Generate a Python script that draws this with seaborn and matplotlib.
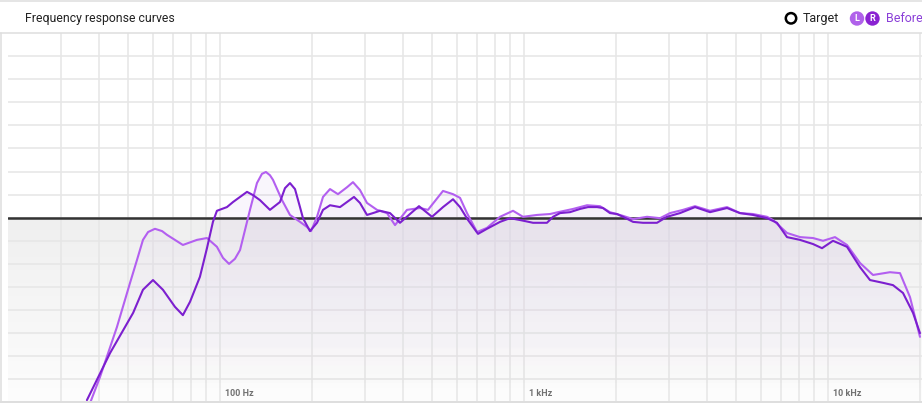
import numpy as np
import pandas as pd
import matplotlib
matplotlib.use("Agg")
import matplotlib.pyplot as plt
import matplotlib.colors as mcolors
from matplotlib.lines import Line2D
from matplotlib.patches import Ellipse
import seaborn as sns

# ---------------- data ----------------
freq_L = [37.4, 40.3, 45.8, 50.6, 53.3, 55.8, 58.0, 61.1, 64.5, 66.9, 75.5, 84.0, 90.6, 97.7,
          102.3, 107.1, 112.0, 116.4, 125.5, 132.3, 137.4, 141.6, 146.0, 149.4, 160.0, 169.9,
          183.3, 193.2, 199.3, 208.5, 218.2, 230.1, 244.4, 261.7, 273.8, 288.7, 304.5, 328.4,
          354.3, 376.5, 412.2, 454.8, 483.3, 541.5, 584.1, 616.0, 649.4, 700.6, 755.5, 834.0,
          920.2, 992.4, 1104, 1218, 1294, 1450, 1612, 1778, 1918, 2117, 2284, 2539, 2802,
          3022, 3334, 3652, 4092, 4654, 5134, 5666, 6300, 6593, 7331, 8089, 8927, 9630,
          10544, 11547, 12742, 14060, 15992, 17251, 18610, 20071]
spl_L = [-40.1, -34.5, -23.7, -14.1, -9.2, -4.8, -3.1, -2.4, -2.9, -3.7, -5.9, -4.8, -4.4, -6.3,
         -8.7, -10.0, -8.9, -7.0, 1.7, 7.5, 9.5, 9.9, 9.2, 8.2, 3.8, 0.6,
         -0.9, -2.0, -2.9, 0.2, 4.5, 6.2, 5.1, 6.6, 7.7, 6.0, 3.2, 1.7,
         1.0, -1.6, 1.7, 2.1, 1.7, 5.8, 5.1, 4.3, 1.0, -3.1, -2.2, 0.2,
         1.5, 0.2, 0.6, 0.8, 1.2, 1.9, 2.7, 2.5, 1.2, 0.4, -0.3, 0.2, -0.1,
         1.0, 1.7, 2.5, 1.5, 2.3, 1.0, 0.8, 0.2, -0.5, -3.3, -4.2, -4.4, -5.0,
         -4.2, -5.9, -9.8, -12.4, -11.8, -12.0, -17.2, -25.8]

freq_R = [36.5, 43.5, 51.8, 55.8, 60.2, 64.9, 71.1, 75.5, 79.7, 85.9, 90.6, 94.8, 97.7,
          105.4, 110.4, 122.7, 128.4, 135.4, 146.0, 157.5, 163.6, 169.9, 176.5, 183.3, 187.5,
          197.7, 208.5, 218.2, 230.1, 248.2, 261.7, 275.9, 288.7, 304.5, 318.6, 335.9, 362.5,
          390.9, 421.7, 451.4, 498.2, 541.5, 584.1, 616.0, 654.4, 706.0, 755.5, 834.0, 899.5,
          970.0, 1071, 1190, 1246, 1314, 1417, 1529, 1624, 1739, 1819, 1918, 2023, 2117,
          2284, 2463, 2738, 2954, 3260, 3652, 4092, 4654, 5134, 5666, 6300, 6795, 7331, 8089,
          8927, 9557, 10385, 11547, 12742, 13746, 15166, 16360, 17649, 19038, 20071]
spl_R = [-39.5, -29.3, -20.6, -15.6, -13.5, -15.6, -19.3, -21.1, -18.2, -12.8, -6.6, -0.9, 1.5,
         2.3, 3.4, 5.6, 4.9, 3.8, 1.7, 3.4, 6.4, 7.5, 6.2, 2.3, -0.1,
         -2.9, -1.1, 1.7, 2.7, 2.3, 3.4, 4.5, 3.2, 0.6, 1.0, 1.5, 1.0,
         -1.1, 0.8, 2.5, 0.2, 2.3, 4.0, 2.3, -0.5, -3.5, -2.4, -0.9, -0.1,
         -0.5, -1.1, -1.1, 0.2, 1.0, 1.2, 1.9, 2.3, 2.3, 2.1, 1.0, 0.8, 0.2,
         -0.9, -1.1, -1.1, 0.2, 1.0, 2.3, 1.2, 2.1, 1.0, 0.6, -0.1, -1.1, -4.2, -4.8,
         -5.7, -6.6, -5.0, -6.3, -10.7, -13.5, -14.1, -14.6, -16.3, -20.6, -25.0]

target_db = 0.0
grid_freqs = [30, 40, 50, 60, 70, 80, 90, 100, 200, 300, 400, 500, 600, 700, 800, 900,
              1000, 2000, 3000, 4000, 5000, 6000, 7000, 8000, 9000, 10000, 20000]
grid_db = [-35, -30, -25, -20, -15, -10, -5, 0, 5, 10, 15, 20, 25, 30, 35]
tick_freqs = [100, 1000, 10000]
tick_labels = ["100 Hz", "1 kHz", "10 kHz"]
title_text = "Frequency response curves"
legend_target = "Target"
legend_before = "Before"
channel_names = ["L", "R"]

# ---------------- style ----------------
COL_L = "#b35ff0"
COL_R = "#7c1fcf"
FILL = "#8a45cc"
GRID = "#e6e6e6"
BORDER = "#dedede"

sns.set_style("white")
plt.rcParams["font.family"] = ["Roboto", "DejaVu Sans"]

W, H = 922, 404
fig = plt.figure(figsize=(W / 100, H / 100), dpi=100, facecolor="white")
ax_left, ax_right, ax_top, ax_bot = 7.5, 922.0, 33.0, 401.5
ax = fig.add_axes([ax_left / W, (H - ax_bot) / H, (ax_right - ax_left) / W, (ax_bot - ax_top) / H])
ax.set_facecolor("white")

XMIN, XMAX = 20, 20380
YMIN, YMAX = -39.8, 40.0

df = pd.concat([
    pd.DataFrame({"freq": freq_L, "spl": spl_L, "channel": channel_names[0]}),
    pd.DataFrame({"freq": freq_R, "spl": spl_R, "channel": channel_names[1]}),
], ignore_index=True)

ax.set_xscale("log")

# gray gradient below the target line
t_frac = (target_db - YMIN) / (YMAX - YMIN)
g = np.zeros((256, 1, 4))
top_c = np.array(mcolors.to_rgb("#efefef"))
bot_c = np.array(mcolors.to_rgb("#fdfdfd"))
ramp = np.linspace(0, 1, 256)[:, None]
g[..., :3] = top_c[None, None, :] * (1 - ramp[..., None]) + bot_c[None, None, :] * ramp[..., None]
g[..., 3] = 1.0
ax.imshow(g, extent=[0, 1, 0, t_frac], transform=ax.transAxes, aspect="auto",
          origin="upper", zorder=0.1, interpolation="bilinear")


def gradient_fill(x, y, color, a_top, a_bot, z):
    poly = ax.fill_between(x, y, YMIN, color="none", lw=0)
    rgba = np.zeros((256, 1, 4))
    rgba[..., :3] = mcolors.to_rgb(color)
    rgba[..., 3] = np.linspace(a_top, a_bot, 256)[:, None]
    top = (max(y) - YMIN) / (YMAX - YMIN)
    im = ax.imshow(rgba, extent=[0, 1, 0, top], transform=ax.transAxes, aspect="auto",
                   origin="upper", zorder=z, interpolation="bilinear")
    im.set_clip_path(poly.get_paths()[0], transform=ax.transData)


for name in channel_names:
    sub = df[df["channel"] == name]
    gradient_fill(sub["freq"].values, sub["spl"].values, FILL, 0.05, 0.0, 1.0)

ax.axhline(target_db, color="#333333", lw=1.8, zorder=2)

sns.lineplot(data=df, x="freq", y="spl", hue="channel",
             palette={channel_names[0]: COL_L, channel_names[1]: COL_R},
             hue_order=channel_names, ax=ax, legend=False, lw=1.5, zorder=3,
             estimator=None, sort=False, solid_joinstyle="round", solid_capstyle="round")

ax.set_xticks(grid_freqs)
ax.set_xticks([], minor=True)
ax.set_yticks(grid_db)
ax.tick_params(length=0, labelbottom=False, labelleft=False, which="both")
ax.grid(True, color=GRID, lw=1.1)
ax.set_axisbelow(True)
for s in ax.spines.values():
    s.set_visible(False)
ax.set_xlabel("")
ax.set_ylabel("")
ax.set_xlim(XMIN, XMAX)
ax.set_ylim(YMIN, YMAX)

# frequency labels inside the plot
for f, lab in zip(tick_freqs, tick_labels):
    ax.text(f * 1.04, 0.022, lab, transform=ax.get_xaxis_transform(), ha="left",
            va="center", fontsize=6.5, fontweight="bold", color="#707070", zorder=5)

# card borders
def hline(ypx, x0=0, x1=W, lw=1.1, c=BORDER):
    fig.add_artist(Line2D([x0 / W, x1 / W], [1 - ypx / H, 1 - ypx / H],
                          transform=fig.transFigure, color=c, lw=lw))

def vline(xpx, y0, y1, lw=1.1, c=BORDER):
    fig.add_artist(Line2D([xpx / W, xpx / W], [1 - y0 / H, 1 - y1 / H],
                          transform=fig.transFigure, color=c, lw=lw))

hline(1.0)
hline(33.0)
hline(401.5, lw=1.4)
vline(1.0, 33, 402)

# header
fig.text(25 / W, 1 - 18.5 / H, title_text, ha="left", va="center", fontsize=8.85,
         color="#222222")

def circ(cx, cy, r, **kw):
    fig.add_artist(Ellipse((cx / W, 1 - cy / H), 2 * r / W, 2 * r / H,
                           transform=fig.transFigure, **kw))

circ(791, 18.3, 5.2, facecolor="white", edgecolor="black", lw=1.8)
fig.text(803 / W, 1 - 18.5 / H, legend_target, ha="left", va="center", fontsize=9,
         color="#222222")
circ(857, 18.5, 7.2, facecolor="#b061ea", edgecolor="none")
circ(872.5, 18.5, 7.2, facecolor="#8a22d2", edgecolor="none")
fig.text(857 / W, 1 - 18.6 / H, channel_names[0], ha="center", va="center", fontsize=6.5,
         fontweight="bold", color="white")
fig.text(872.5 / W, 1 - 18.6 / H, channel_names[1], ha="center", va="center", fontsize=6.5,
         fontweight="bold", color="white")
fig.text(886 / W, 1 - 18.5 / H, legend_before, ha="left", va="center", fontsize=9,
         color="#8b3fd8")

fig.savefig("out.png", dpi=100, facecolor="white")
